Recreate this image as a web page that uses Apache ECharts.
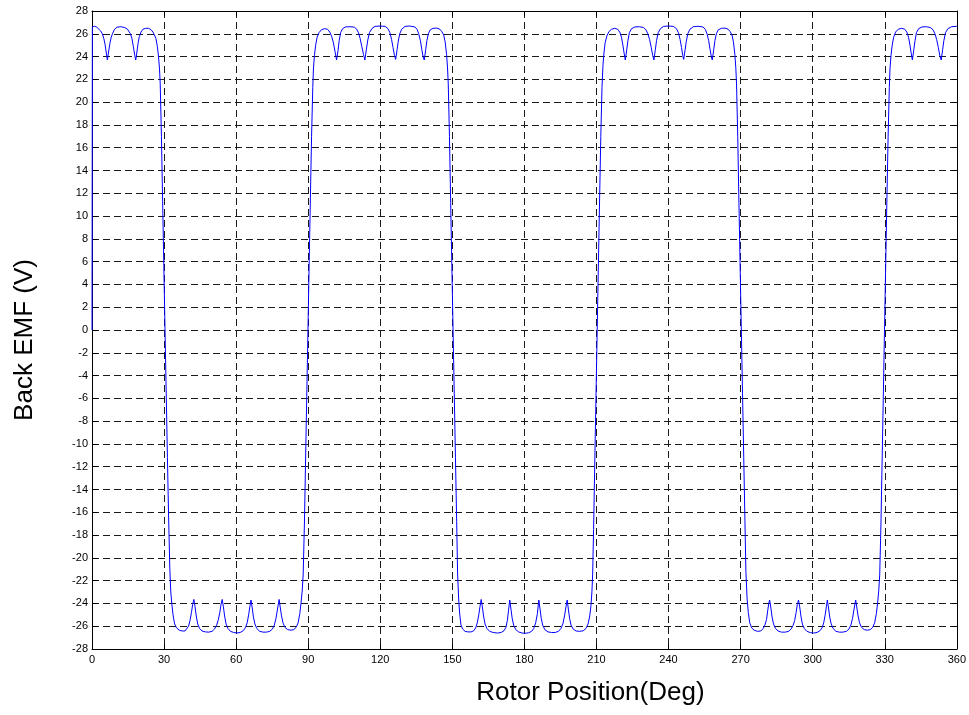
<!DOCTYPE html>
<html>
<head>
<meta charset="utf-8">
<title>Back EMF vs Rotor Position</title>
<script src="https://cdn.jsdelivr.net/npm/echarts@6/dist/echarts.min.js"></script>
<style>
  html, body { margin: 0; padding: 0; background: #ffffff; }
  #chart { width: 969px; height: 715px; }
</style>
</head>
<body>
<div id="chart"></div>
<script>
// Axis ranges and tick spacing
const xTicks = { min: 0, max: 360, step: 30 };
const yTicks = { min: -28, max: 28, step: 2 };

// Back EMF samples, [rotor angle in degrees, volts], one array per half cycle
const posStart = [
  [0, 0], [0.15, 26.6], [1, 26.66], [2, 26.58], [2.8, 26.45], [3.6, 26.25], [4.3, 26.0],
  [4.9, 25.6], [5.4, 25.1], [5.9, 24.4], [6.4, 23.7], [6.9, 24.4], [7.5, 25.2], [8.0, 25.7],
  [8.6, 26.05], [9.4, 26.4], [10.4, 26.58], [12.0, 26.62], [13.6, 26.55], [14.7, 26.42],
  [15.5, 26.25], [16.0, 26.0], [16.6, 25.6], [17.2, 24.9], [17.8, 24.1], [18.2, 23.7],
  [18.7, 24.4], [19.2, 25.2], [19.7, 25.75], [20.4, 26.15], [21.2, 26.4], [22.4, 26.48],
  [23.6, 26.48], [24.6, 26.35], [25.4, 26.15], [25.9, 26.0], [26.6, 25.6], [27.2, 24.9],
  [27.7, 24.0], [28.1, 22.9], [28.4, 21.6], [28.9, 17.0], [29.4, 11.3], [29.9, 5.6], [30.4, 0]
];

const negA = [
  [30.9, -5.6], [31.4, -11.2], [31.9, -16.5], [32.4, -21.0], [32.8, -23.0], [33.3, -24.2],
  [33.8, -25.1], [34.4, -25.8], [35.2, -26.15], [36.3, -26.35], [37.5, -26.42], [38.7, -26.42],
  [39.5, -26.3], [40.2, -26.0], [40.8, -25.5], [41.4, -24.8], [41.9, -24.1], [42.4, -23.65],
  [42.9, -24.3], [43.4, -25.1], [44.0, -25.8], [44.8, -26.2], [45.8, -26.42], [47.2, -26.5],
  [48.6, -26.52], [50.0, -26.45], [51.0, -26.25], [51.8, -25.95], [52.5, -25.5], [53.2, -24.8],
  [53.7, -24.1], [54.2, -23.65], [54.7, -24.3], [55.2, -25.1], [55.8, -25.8], [56.6, -26.2],
  [57.6, -26.45], [59.0, -26.55], [60.3, -26.6], [61.7, -26.55], [62.9, -26.4], [63.8, -26.15],
  [64.6, -25.7], [65.2, -25.0], [65.7, -24.3], [66.2, -23.7], [66.7, -24.4], [67.2, -25.2],
  [67.8, -25.8], [68.6, -26.2], [69.8, -26.45], [71.2, -26.52], [72.6, -26.52], [74.0, -26.45],
  [75.1, -26.25], [75.9, -25.9], [76.6, -25.3], [77.3, -24.4], [77.9, -23.65], [78.4, -24.4],
  [78.9, -25.1], [79.5, -25.7], [80.3, -26.1], [81.5, -26.3], [82.8, -26.35], [84.0, -26.3],
  [85.0, -26.1], [85.8, -25.7], [86.5, -24.9], [87.0, -24.0], [87.5, -22.9], [87.9, -21.5],
  [88.4, -17.2], [88.9, -11.5], [89.4, -5.8], [89.9, 0]
];

const posB = [
  [90.4, 5.8], [90.9, 11.5], [91.4, 17.0], [91.9, 21.3], [92.2, 23.0], [92.6, 24.1],
  [93.1, 25.0], [93.7, 25.7], [94.5, 26.1], [95.5, 26.35], [96.8, 26.45], [98.0, 26.4],
  [99.0, 26.15], [99.8, 25.75], [100.5, 25.2], [101.2, 24.4], [101.8, 23.7], [102.4, 24.5],
  [102.9, 25.4], [103.5, 26.1], [104.3, 26.45], [105.5, 26.6], [107.4, 26.62], [109.2, 26.58],
  [110.2, 26.4], [110.9, 26.1], [111.6, 25.6], [112.3, 24.9], [113.0, 24.2], [113.6, 23.7],
  [114.2, 24.6], [114.8, 25.45], [115.5, 26.1], [116.5, 26.45], [117.8, 26.65], [120.0, 26.68],
  [122.0, 26.65], [123.2, 26.45], [124.0, 26.1], [124.7, 25.5], [125.3, 24.8], [125.9, 24.1],
  [126.4, 23.75], [127.0, 24.6], [127.5, 25.35], [128.1, 26.0], [128.9, 26.4], [130.3, 26.65],
  [132.3, 26.68], [134.4, 26.6], [135.3, 26.4], [136.0, 26.0], [136.7, 25.4], [137.3, 24.6],
  [137.8, 24.0], [138.3, 23.7], [138.9, 24.6], [139.4, 25.4], [140.0, 26.0], [140.8, 26.35],
  [142.0, 26.48], [143.5, 26.5], [144.8, 26.4], [145.6, 26.2], [146.4, 25.9], [147.0, 25.3],
  [147.6, 24.2], [148.0, 23.0], [148.3, 21.6], [148.8, 17.0], [149.3, 11.2], [149.8, 5.6],
  [150.3, 0]
];

const negC = [
  [150.8, -5.6], [151.3, -11.2], [151.8, -16.8], [152.2, -21.5], [152.7, -23.9], [153.1, -25.0],
  [153.6, -25.9], [154.3, -26.25], [155.3, -26.45], [156.5, -26.5], [157.8, -26.5], [158.9, -26.4],
  [159.7, -26.15], [160.4, -25.7], [161.0, -25.0], [161.5, -24.3], [162.0, -23.65], [162.5, -24.3],
  [163.0, -25.1], [163.6, -25.8], [164.4, -26.2], [165.5, -26.45], [167.0, -26.55], [168.8, -26.6],
  [170.3, -26.55], [171.5, -26.4], [172.3, -26.1], [172.9, -25.5], [173.4, -24.6], [173.9, -23.7],
  [174.4, -24.5], [174.9, -25.3], [175.5, -25.9], [176.4, -26.3], [177.6, -26.5], [179.0, -26.6],
  [180.3, -26.62], [181.7, -26.58], [183.0, -26.45], [183.9, -26.2], [184.7, -25.7], [185.4, -24.9],
  [186.0, -23.7], [186.5, -24.5], [187.0, -25.3], [187.6, -25.9], [188.5, -26.3], [189.8, -26.5],
  [191.3, -26.55], [192.8, -26.55], [194.2, -26.45], [195.2, -26.2], [196.0, -25.8], [196.7, -25.1],
  [197.3, -24.3], [197.8, -23.7], [198.3, -24.5], [198.8, -25.3], [199.4, -25.9], [200.3, -26.25],
  [201.5, -26.42], [203.0, -26.45], [204.5, -26.4], [205.6, -26.2], [206.5, -25.8], [207.2, -25.1],
  [207.7, -24.2], [208.1, -23.0], [208.4, -21.5], [208.8, -17.5], [209.3, -11.5], [209.8, -5.8],
  [210.3, 0]
];

const posD = [
  [210.8, 5.8], [211.3, 11.5], [211.8, 17.0], [212.3, 21.3], [212.7, 23.2], [213.1, 24.3],
  [213.6, 25.2], [214.3, 25.8], [215.2, 26.2], [216.3, 26.4], [217.6, 26.48], [218.8, 26.4],
  [219.7, 26.15], [220.4, 25.7], [221.0, 25.0], [221.5, 24.3], [222.0, 23.7], [222.6, 24.6],
  [223.1, 25.4], [223.7, 26.1], [224.6, 26.45], [226.0, 26.6], [227.8, 26.62], [229.6, 26.55],
  [230.6, 26.35], [231.4, 26.0], [232.1, 25.5], [232.8, 24.8], [233.4, 24.1], [233.9, 23.7],
  [234.5, 24.6], [235.0, 25.4], [235.7, 26.1], [236.6, 26.45], [238.0, 26.65], [240.0, 26.68],
  [242.0, 26.65], [243.3, 26.45], [244.1, 26.1], [244.8, 25.5], [245.4, 24.8], [245.9, 24.1],
  [246.3, 23.75], [246.9, 24.6], [247.4, 25.35], [248.0, 26.0], [248.9, 26.4], [250.3, 26.62],
  [252.3, 26.66], [254.3, 26.6], [255.3, 26.4], [256.0, 26.0], [256.7, 25.4], [257.3, 24.6],
  [257.8, 24.0], [258.2, 23.7], [258.8, 24.6], [259.3, 25.4], [259.9, 26.0], [260.7, 26.35],
  [262.0, 26.48], [263.5, 26.5], [264.8, 26.4], [265.6, 26.2], [266.4, 25.9], [267.0, 25.3],
  [267.6, 24.2], [268.0, 23.0], [268.3, 21.6], [268.8, 17.0], [269.3, 11.2], [269.8, 5.6],
  [270.3, 0]
];

const negE = [
  [270.8, -5.6], [271.3, -11.2], [271.8, -16.8], [272.2, -21.2], [272.7, -23.6], [273.2, -24.8],
  [273.8, -25.7], [274.6, -26.15], [275.6, -26.35], [277.0, -26.45], [278.4, -26.42], [279.4, -26.2],
  [280.1, -25.9], [280.8, -25.4], [281.3, -24.6], [281.8, -23.9], [282.1, -23.7], [282.6, -24.4],
  [283.1, -25.2], [283.7, -25.8], [284.5, -26.2], [285.6, -26.42], [287.0, -26.52], [288.6, -26.52],
  [290.0, -26.45], [291.0, -26.25], [291.8, -25.95], [292.5, -25.5], [293.1, -24.8], [293.6, -24.1],
  [294.1, -23.7], [294.6, -24.3], [295.1, -25.1], [295.7, -25.8], [296.5, -26.2], [297.6, -26.45],
  [299.0, -26.56], [300.4, -26.6], [301.8, -26.55], [303.0, -26.4], [303.9, -26.15], [304.6, -25.7],
  [305.2, -25.0], [305.7, -24.3], [306.1, -23.7], [306.6, -24.4], [307.1, -25.2], [307.7, -25.8],
  [308.5, -26.2], [309.7, -26.45], [311.1, -26.52], [312.6, -26.52], [314.0, -26.45], [315.1, -26.25],
  [315.9, -25.9], [316.6, -25.3], [317.3, -24.4], [317.9, -23.7], [318.4, -24.4], [318.9, -25.1],
  [319.5, -25.7], [320.3, -26.1], [321.5, -26.3], [322.8, -26.35], [324.0, -26.3], [325.0, -26.1],
  [325.8, -25.7], [326.5, -24.9], [327.0, -24.0], [327.5, -22.9], [327.9, -21.5], [328.4, -17.2],
  [328.9, -11.5], [329.4, -5.8], [329.9, 0]
];

const posEnd = [
  [330.4, 5.8], [330.9, 11.5], [331.4, 17.0], [331.9, 21.3], [332.2, 23.0], [332.6, 24.1],
  [333.1, 25.0], [333.7, 25.7], [334.5, 26.15], [335.6, 26.4], [337.0, 26.48], [338.3, 26.4],
  [339.2, 26.15], [339.9, 25.7], [340.5, 25.0], [341.0, 24.3], [341.5, 23.7], [342.1, 24.6],
  [342.6, 25.4], [343.2, 26.1], [344.1, 26.45], [345.5, 26.6], [347.3, 26.62], [349.0, 26.55],
  [350.1, 26.35], [350.9, 26.0], [351.6, 25.5], [352.3, 24.8], [352.9, 24.1], [353.5, 23.7],
  [354.1, 24.6], [354.6, 25.4], [355.3, 26.1], [356.3, 26.45], [357.8, 26.62], [360.0, 26.66]
];

const backEmf = [].concat(posStart, negA, posB, negC, posD, negE, posEnd);

const FONT = '"Liberation Sans", Arial, Helvetica, sans-serif';

const chart = echarts.init(document.getElementById('chart'), null, { renderer: 'canvas' });

const gridDash = { color: '#1a1a1a', width: 1, type: [7, 4] };
const frameLine = { show: true, onZero: false, lineStyle: { color: '#000', width: 1 } };
const innerTick = { show: true, inside: true, length: 5, lineStyle: { color: '#000', width: 1 } };

chart.setOption({
  animation: false,
  backgroundColor: '#ffffff',
  grid: { left: 92, right: 12, top: 11, bottom: 66, containLabel: false },
  xAxis: [
    {
      type: 'value', position: 'bottom',
      min: xTicks.min, max: xTicks.max, interval: xTicks.step,
      name: 'Rotor Position(Deg)', nameLocation: 'middle', nameGap: 31,
      nameTextStyle: { fontFamily: FONT, fontSize: 26, color: '#000', padding: [0, 0, 0, 132] },
      axisLine: frameLine, axisTick: innerTick,
      axisLabel: { fontFamily: FONT, fontSize: 11, color: '#000', margin: 5 },
      splitLine: { show: true, lineStyle: gridDash }
    },
    {
      type: 'value', position: 'top',
      min: xTicks.min, max: xTicks.max, interval: xTicks.step,
      axisLine: frameLine, axisTick: innerTick,
      axisLabel: { show: false }, splitLine: { show: false }
    }
  ],
  yAxis: [
    {
      type: 'value', position: 'left',
      min: yTicks.min, max: yTicks.max, interval: yTicks.step,
      name: 'Back EMF (V)', nameLocation: 'middle', nameGap: 54, nameRotate: 90,
      nameTextStyle: { fontFamily: FONT, fontSize: 26, color: '#000', padding: [0, 20, 0, 0] },
      axisLine: frameLine, axisTick: innerTick,
      axisLabel: { fontFamily: FONT, fontSize: 11, color: '#000', margin: 4 },
      splitLine: { show: true, lineStyle: gridDash }
    },
    {
      type: 'value', position: 'right',
      min: yTicks.min, max: yTicks.max, interval: yTicks.step,
      axisLine: frameLine, axisTick: innerTick,
      axisLabel: { show: false }, splitLine: { show: false }
    }
  ],
  series: [
    {
      name: 'Back EMF',
      type: 'line',
      xAxisIndex: 0,
      yAxisIndex: 0,
      data: backEmf,
      showSymbol: false,
      smooth: false,
      lineStyle: { color: '#0000ff', width: 1 },
      z: 5
    }
  ]
});
</script>
</body>
</html>
